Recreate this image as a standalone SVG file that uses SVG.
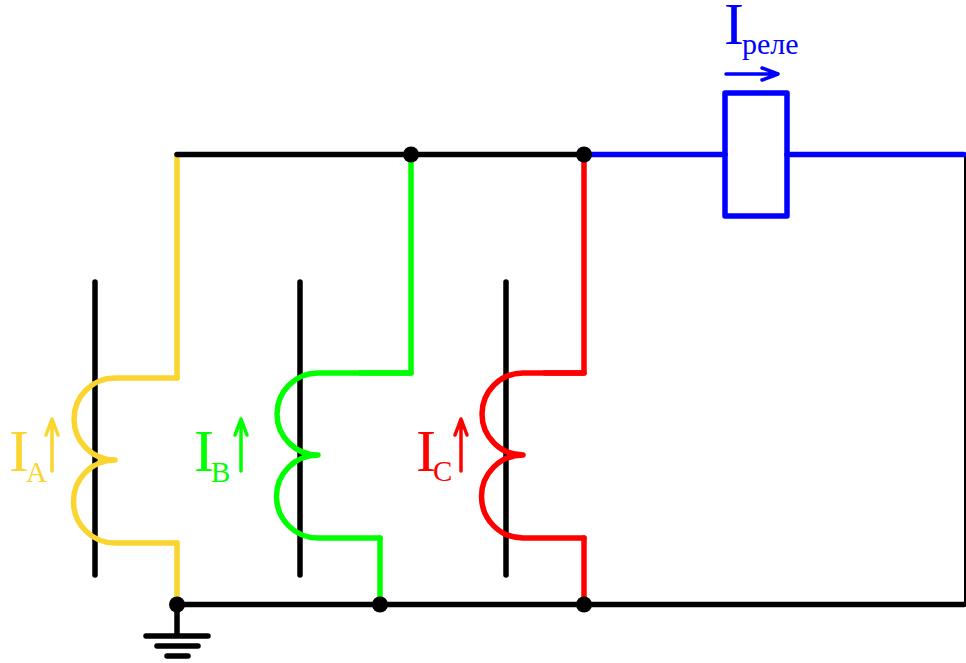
<svg xmlns="http://www.w3.org/2000/svg" width="966" height="663" viewBox="0 0 966 663">
<style>
.w{fill:none;stroke-width:5.5;stroke-linecap:round;stroke-linejoin:round}
.k{stroke:#000}.y{stroke:#fad52f}.g{stroke:#00ff00}.r{stroke:#ff0000}.b{stroke:#0000ff}
.a{fill:none;stroke-width:3.5;stroke-linecap:round;stroke-linejoin:round}
.d{fill:#000}
text{font-family:"Liberation Serif","Times New Roman",serif;font-size:60px}
.sub{font-size:29px}
</style>
<rect width="966" height="663" fill="#fff"/>
<g id="connectors">
<path class="w y" d="M177 155V378"/>
<path class="w y" d="M177 543V604"/>
<path class="w g" d="M411 155V373H360"/>
<path class="w g" d="M380 538V604"/>
<path class="w r" d="M584 155V373H545"/>
<path class="w r" d="M584 538V604"/>
<path class="w k" d="M177 154.500H584"/>
<path class="w k" d="M177 604.500H964"/>
<path fill="none" stroke="#000" stroke-width="2" d="M965 155V604"/>
<path class="w b" d="M584 154.500H725M787 154.500H964"/>
</g>
<g id="ground">
<path class="w k" d="M177 604V636M146 636H208M157 646H198M167 656H188"/>
<circle class="d" cx="177" cy="604.500" r="8"/>
</g>
<g id="junction-top-1"><circle class="d" cx="411" cy="154.500" r="8"/></g>
<g id="junction-top-2"><circle class="d" cx="584" cy="154.500" r="8"/></g>
<g id="junction-bottom-1"><circle class="d" cx="380" cy="604.500" r="8"/></g>
<g id="junction-bottom-2"><circle class="d" cx="584" cy="604.500" r="8"/></g>
<g id="transformer-a">
<path class="w k" d="M95 282V575"/>
<path class="w y" d="M177 378H115A41 41 0 0 0 115 460A41.500 41.500 0 0 0 115 543H177"/>
<path class="a y" d="M52 471V419M46 435L52 419L58 435"/>
<text x="9" y="471" fill="#fad52f">I<tspan class="sub" dx="-3" dy="11">A</tspan></text>
</g>
<g id="transformer-b">
<path class="w k" d="M300 282V575"/>
<path class="w g" d="M411 373H318A41 41 0 0 0 318 455A41.500 41.500 0 0 0 318 538H380"/>
<path class="a g" d="M241 471V419M235 435L241 419L247 435"/>
<text x="194" y="471" fill="#00ff00">I<tspan class="sub" dx="-3" dy="11">B</tspan></text>
</g>
<g id="transformer-c">
<path class="w k" d="M506 282V575"/>
<path class="w r" d="M584 373H523A41 41 0 0 0 523 455A41.500 41.500 0 0 0 523 538H584"/>
<path class="a r" d="M461 471V419M455 435L461 419L467 435"/>
<text x="416" y="471" fill="#ff0000">I<tspan class="sub" dx="-3" dy="10">C</tspan></text>
</g>
<g id="relay">
<rect class="w b" x="725" y="93" width="62" height="123"/>
<path class="a b" d="M726 74H778M762 68L778 74L762 80"/>
<text x="724" y="44" fill="#0000ff">I<tspan font-size="30" dx="-2" dy="10">реле</tspan></text>
</g>
</svg>
